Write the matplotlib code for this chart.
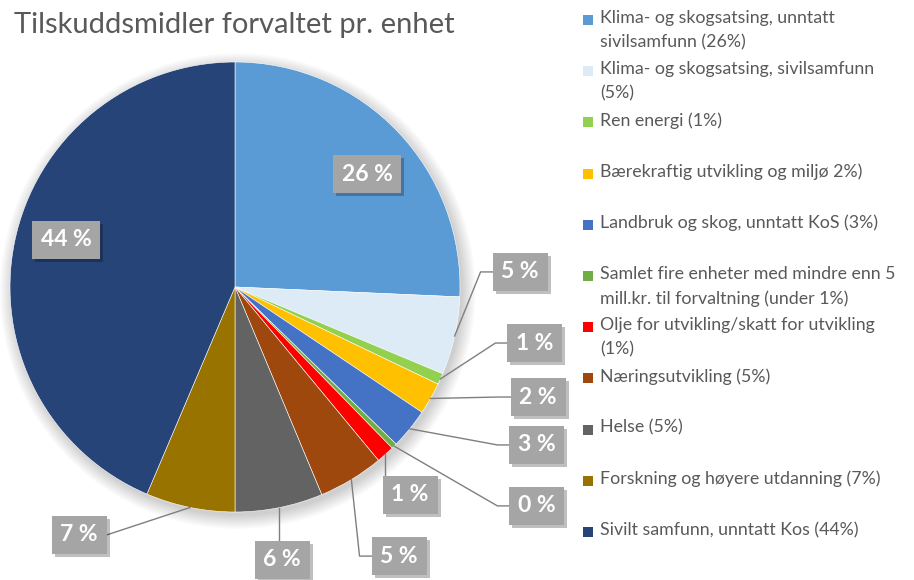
import numpy as np
import matplotlib
matplotlib.use("Agg")
import matplotlib.pyplot as plt
from matplotlib.patches import Rectangle, Circle

# Data
categories = [
    "Klima- og skogsatsing, unntatt\nsivilsamfunn (26%)",
    "Klima- og skogsatsing, sivilsamfunn\n(5%)",
    "Ren energi (1%)",
    "Bærekraftig utvikling og miljø 2%)",
    "Landbruk og skog, unntatt KoS (3%)",
    "Samlet fire enheter med mindre enn 5\nmill.kr. til forvaltning (under 1%)",
    "Olje for utvikling/skatt for utvikling\n(1%)",
    "Næringsutvikling (5%)",
    "Helse (5%)",
    "Forskning og høyere utdanning (7%)",
    "Sivilt samfunn, unntatt Kos (44%)",
]
values = [25.7, 5.6, 0.8, 2.3, 2.9, 0.4, 1.3, 4.7, 6.3, 6.4, 43.6]
pct_labels = ["26 %", "5 %", "1 %", "2 %", "3 %", "0 %", "1 %", "5 %", "6 %", "7 %", "44 %"]
colors = ["#5b9bd5", "#ddebf7", "#92d050", "#ffc000", "#4472c4", "#70ad47",
          "#ff0000", "#9e480e", "#636363", "#997300", "#264478"]

# label box centres (pie units, radius = 1)
label_pos = [(0.587, 0.502), (1.267, 0.067), (1.333, -0.249), (1.347, -0.489),
             (1.342, -0.702), (1.342, -0.973), (0.778, -0.924), (0.729, -1.196),
             (0.209, -1.213), (-0.693, -1.102), (-0.751, 0.209)]
inside = [0, 10]

W, H = 914, 580
fig = plt.figure(figsize=(W / 100, H / 100), dpi=100)
fig.patch.set_facecolor("white")

# pie axes: centre at pixel (235, 287), radius 225 px
R = 225.0
cx, cy = 235.0, 287.0
ax = fig.add_axes([0, 0, 570 / W, 540 / H])
ax.axis("off")

# soft shadow behind the pie
for i in range(8):
    ax.add_patch(Circle((0.012, -0.018), 1.0 + 0.008 * i, color="black",
                        alpha=0.025, zorder=0, lw=0))

wedges, _ = ax.pie(values, colors=colors, startangle=90, counterclock=False,
                   radius=1.0, center=(0, 0), frame=False,
                   wedgeprops=dict(edgecolor="white", linewidth=0.4))
ax.set_xlim((0 - cx) / R, (570 - cx) / R)
ax.set_ylim((cy - 580) / R, (cy - 40) / R)
ax.set_aspect("auto")

box_w, box_h = 55 / R, 38 / R
lc = "#7f7f7f"
for i, w in enumerate(wedges):
    lx, ly = label_pos[i]
    bw = box_w + (13 / R if len(pct_labels[i]) > 3 else 0)
    if i not in inside:
        ang = np.deg2rad((w.theta1 + w.theta2) / 2)
        sx, sy = np.cos(ang), np.sin(ang)
        left, right = lx - bw / 2, lx + bw / 2
        top = ly + box_h / 2
        if left <= sx <= right:
            xs, ys = [sx, sx], [sy, top]
        elif left > sx:
            xs, ys = [sx, left - 12 / R, left], [sy, ly, ly]
        else:
            xs, ys = [sx, right], [sy, ly]
        ax.plot(xs, ys, color=lc, lw=1.0, zorder=3, clip_on=False)
    # shadow + box
    ax.add_patch(Rectangle((lx - bw / 2 + 3 / R, ly - box_h / 2 - 3 / R), bw, box_h,
                           facecolor="black", alpha=0.25, lw=0, zorder=4, clip_on=False))
    ax.add_patch(Rectangle((lx - bw / 2, ly - box_h / 2), bw, box_h,
                           facecolor="#a5a5a5", lw=0, zorder=5, clip_on=False))
    ax.text(lx, ly, pct_labels[i], ha="center", va="center", color="white",
            fontsize=16.5, fontweight="bold", family="Lato", zorder=6)

# title
fig.text(14 / W, 1 - 25 / H, "Tilskuddsmidler forvaltet pr. enhet", ha="left", va="center",
         fontsize=21, color="#595959", family="Lato")

# legend
for i, lab in enumerate(categories):
    y = 20 + 51.2 * i
    fig.patches.append(Rectangle((583 / W, 1 - (y + 5) / H), 10 / W, 10 / H,
                                 facecolor=colors[i], lw=0, transform=fig.transFigure))
    fig.text(600 / W, 1 - (y - 10) / H, lab, ha="left", va="top", fontsize=12.8,
             color="#595959", family="Lato", linespacing=1.6)

fig.savefig("out.png", dpi=100)
